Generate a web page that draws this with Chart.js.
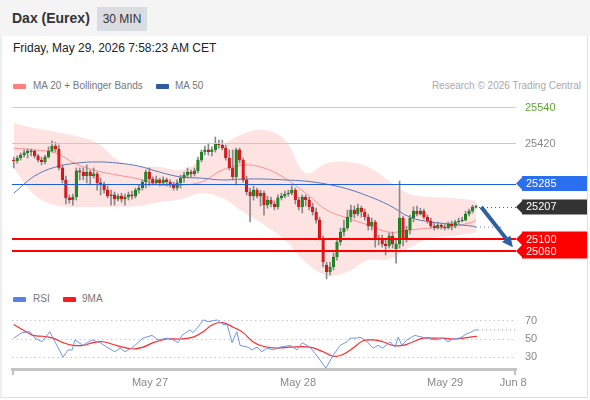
<!DOCTYPE html>
<html>
<head>
<meta charset="utf-8">
<script src="https://cdn.jsdelivr.net/npm/chart.js@4.4.1/dist/chart.umd.min.js"></script>
<style>
  body { margin:0; width:590px; height:400px; background:#fff; font-family:"Liberation Sans", Arial, sans-serif; position:relative; overflow:hidden; }
  .frame { position:absolute; left:0; top:0; width:588px; height:398px; box-sizing:border-box; border-left:2px solid #eeeeee; border-right:1px solid #e0e0e0; border-bottom:1px solid #e0e0e0; }
  .head { position:absolute; left:0; top:0; width:590px; height:36px; background:#f4f4f4; }
  .title { position:absolute; left:12px; top:10px; font-weight:bold; font-size:14px; color:#333; }
  .badge { position:absolute; left:97px; top:7px; width:50px; height:24px; background:#d9dce1; font-size:12px; color:#333; line-height:24px; text-align:center; }
  .date { position:absolute; left:13px; top:41px; font-size:12px; color:#222; }
  .lg { position:absolute; font-size:10px; color:#777; line-height:12px; }
  .sw { position:absolute; width:13px; height:5px; border-radius:1px; }
  canvas { position:absolute; left:0; }
</style>
</head>
<body>
<div class="frame"></div>
<div class="head"></div>
<div class="title">Dax (Eurex)</div>
<div class="badge">30 MIN</div>
<div class="date">Friday, May 29, 2026 7:58:23 AM CET</div>

<div class="sw" style="left:13px;top:84px;background:#ff7f7f"></div>
<div class="lg" style="left:33px;top:80px">MA 20 + Bollinger Bands</div>
<div class="sw" style="left:156px;top:84px;background:#2d5aa0"></div>
<div class="lg" style="left:175px;top:80px">MA 50</div>
<div class="lg" style="right:9px;top:80px;color:#aaa">Research © 2026 Trading Central</div>

<div class="sw" style="left:13px;top:297px;background:#5b80e6"></div>
<div class="lg" style="left:33px;top:293px">RSI</div>
<div class="sw" style="left:63px;top:297px;background:#ff1a1a"></div>
<div class="lg" style="left:82px;top:293px">9MA</div>

<canvas id="price" width="590" height="200" style="top:90px"></canvas>
<canvas id="rsi" width="590" height="110" style="top:290px"></canvas>

<script>
// 30 min candles, oldest first
const candleOpen = [
  25363, 25360, 25370, 25380, 25387, 25393, 25393, 25377, 25363, 25357,
  25373, 25393, 25410, 25400, 25337, 25297, 25237, 25230, 25240, 25327,
  25323, 25310, 25323, 25310, 25317, 25287, 25280, 25263, 25243, 25247,
  25233, 25243, 25233, 25240, 25247, 25243, 25263, 25270, 25290, 25323,
  25300, 25287, 25297, 25287, 25297, 25290, 25283, 25270, 25287, 25303,
  25313, 25323, 25317, 25327, 25363, 25390, 25397, 25390, 25397, 25420,
  25413, 25403, 25370, 25337, 25307, 25397, 25363, 25297, 25257, 25243,
  25263, 25243, 25253, 25213, 25230, 25217, 25207, 25237, 25243, 25250,
  25253, 25263, 25230, 25207, 25240, 25230, 25207, 25190, 25163, 25103,
  25013, 24990, 25007, 25040, 25090, 25123, 25137, 25173, 25197, 25183,
  25203, 25190, 25173, 25143, 25157, 25097, 25103, 25083, 25077, 25110,
  25067, 25083, 25170, 25097, 25130, 25170, 25193, 25183, 25193, 25173,
  25160, 25143, 25137, 25147, 25140, 25137, 25150, 25143, 25157, 25160,
  25163, 25183, 25193, 25205
];
const candleHigh = [
  25373, 25377, 25387, 25397, 25400, 25400, 25397, 25383, 25373, 25380,
  25407, 25427, 25423, 25413, 25347, 25310, 25247, 25250, 25337, 25337,
  25337, 25347, 25330, 25337, 25323, 25303, 25290, 25277, 25263, 25257,
  25250, 25253, 25250, 25257, 25260, 25270, 25280, 25297, 25330, 25337,
  25307, 25310, 25303, 25307, 25303, 25297, 25290, 25297, 25313, 25323,
  25337, 25330, 25337, 25373, 25397, 25410, 25420, 25407, 25440, 25430,
  25430, 25413, 25397, 25397, 25403, 25403, 25370, 25310, 25270, 25277,
  25270, 25263, 25260, 25243, 25240, 25227, 25247, 25253, 25260, 25263,
  25277, 25270, 25240, 25247, 25247, 25240, 25220, 25203, 25173, 25110,
  25023, 25023, 25053, 25103, 25137, 25163, 25197, 25213, 25210, 25217,
  25210, 25200, 25183, 25170, 25163, 25113, 25113, 25097, 25120, 25123,
  25097, 25293, 25177, 25143, 25180, 25207, 25210, 25203, 25200, 25180,
  25170, 25153, 25157, 25153, 25150, 25157, 25160, 25163, 25170, 25173,
  25193, 25200, 25213, 25213
];
const candleLow = [
  25337, 25353, 25363, 25373, 25370, 25377, 25370, 25357, 25347, 25350,
  25370, 25390, 25390, 25330, 25287, 25217, 25220, 25213, 25230, 25297,
  25297, 25287, 25280, 25303, 25263, 25247, 25253, 25237, 25213, 25213,
  25227, 25223, 25213, 25230, 25233, 25237, 25253, 25263, 25270, 25277,
  25280, 25280, 25277, 25280, 25277, 25273, 25263, 25263, 25270, 25290,
  25303, 25307, 25310, 25320, 25357, 25380, 25380, 25377, 25390, 25403,
  25397, 25363, 25330, 25297, 25280, 25353, 25290, 25247, 25157, 25230,
  25237, 25210, 25180, 25203, 25207, 25197, 25200, 25230, 25237, 25243,
  25247, 25217, 25197, 25187, 25210, 25197, 25180, 25153, 25097, 25007,
  24967, 24980, 24997, 25030, 25080, 25110, 25130, 25157, 25170, 25177,
  25173, 25163, 25130, 25130, 25073, 25080, 25073, 25047, 25070, 25070,
  25020, 25070, 25077, 25090, 25117, 25157, 25177, 25180, 25167, 25153,
  25137, 25130, 25133, 25133, 25130, 25133, 25130, 25137, 25150, 25157,
  25160, 25177, 25187, 25203
];
const candleClose = [
  25360, 25370, 25380, 25387, 25393, 25391, 25377, 25363, 25357, 25373,
  25393, 25410, 25400, 25337, 25297, 25237, 25230, 25240, 25327, 25323,
  25310, 25323, 25310, 25317, 25287, 25280, 25263, 25243, 25247, 25233,
  25243, 25233, 25240, 25247, 25243, 25263, 25270, 25290, 25323, 25300,
  25287, 25297, 25287, 25297, 25290, 25283, 25270, 25287, 25303, 25313,
  25323, 25317, 25327, 25363, 25390, 25397, 25390, 25397, 25420, 25413,
  25403, 25370, 25337, 25307, 25397, 25363, 25297, 25257, 25243, 25263,
  25243, 25253, 25213, 25230, 25217, 25207, 25237, 25243, 25250, 25253,
  25263, 25230, 25207, 25240, 25230, 25207, 25190, 25163, 25103, 25023,
  24990, 25007, 25040, 25090, 25123, 25137, 25173, 25197, 25183, 25203,
  25190, 25173, 25143, 25157, 25097, 25103, 25083, 25077, 25110, 25083,
  25083, 25170, 25097, 25130, 25170, 25193, 25183, 25193, 25173, 25160,
  25143, 25137, 25147, 25140, 25137, 25150, 25143, 25157, 25160, 25162,
  25183, 25193, 25207, 25207
];

// indicator readings (every 6th bar)
const indIdx    = [0, 6, 12, 18, 24, 30, 36, 42, 48, 54, 60, 66, 72, 78, 84, 90, 96, 102, 108, 114, 120, 126, 132, 133];
const bandUpper = [25487, 25470, 25457, 25443, 25420, 25363, 25343, 25340, 25330, 25363, 25413, 25450, 25463, 25430, 25320, 25353, 25357, 25340, 25293, 25250, 25240, 25237, 25230, 25227];
const bandLower = [25337, 25247, 25213, 25207, 25207, 25207, 25210, 25223, 25233, 25253, 25237, 25190, 25147, 25097, 25023, 24980, 24990, 25030, 25033, 25073, 25103, 25110, 25120, 25123];
const ma20      = [25403, 25397, 25387, 25350, 25327, 25313, 25300, 25280, 25280, 25290, 25330, 25347, 25337, 25303, 25253, 25197, 25170, 25147, 25123, 25130, 25137, 25140, 25157, 25163];
const ma50      = [25253, 25310, 25340, 25353, 25357, 25353, 25343, 25323, 25307, 25303, 25297, 25300, 25300, 25297, 25293, 25283, 25267, 25243, 25213, 25173, 25157, 25150, 25143, 25140];

const rsiIdx = [0, 2.4, 4.7, 6.1, 8.1, 10.4, 11.3, 14.2, 15.6, 16.8, 17.6, 19.9, 22.5, 24.8, 26.8, 29.1, 30.6, 32, 34.3, 37.2,
  39.8, 41.5, 44.1, 45.8, 47.3, 48.4, 50.7, 51.6, 53, 54.5, 55.9, 58.5, 60.2, 61.4, 62.8, 64.2, 65.1, 67.4, 68.6, 70,
  71.4, 72.9, 74.6, 76.6, 79.5, 81.5, 83, 85.2, 86.7, 88.1, 89.8, 91.9, 93.9, 95.9, 96.8, 98.8, 99.6, 101.1, 103.4, 104.8,
  106.2, 108.3, 109.7, 110.6, 111.7, 113.1, 114, 115.4, 117.5, 119.8, 121.8, 123.5, 124.9, 126.4, 128.4, 130.4, 131.3, 132.7, 133.6];
const rsiVal = [51, 57, 58, 51, 47, 58, 51, 30, 38, 38, 49, 43, 49, 46, 41, 36, 40, 36, 41, 51,
  54, 49, 51, 49, 46, 54, 60, 57, 63, 71, 69, 71, 66, 66, 46, 58, 43, 41, 38, 41,
  36, 40, 38, 41, 43, 38, 46, 41, 34, 27, 18, 32, 43, 47, 51, 51, 52, 49, 40, 43,
  40, 47, 41, 52, 43, 49, 51, 54, 52, 50, 49, 51, 47, 50, 51, 56, 57, 60, 60];
const rsiMaIdx = [0, 2.7, 5.6, 8.4, 11.3, 14.2, 17.1, 20, 22.8, 25.7, 28.6, 31.4, 34.3, 37.2, 40.1, 44.1, 47.8, 51.6, 54.5, 57.3,
  60.2, 63.1, 66, 68.8, 71.7, 75.7, 79.5, 85.2, 89, 91.9, 94.7, 97.6, 100.5, 103.4, 106.2, 109.1, 112, 114.9, 117.7, 120.6,
  123.5, 126.4, 129.3, 133.3];
const rsiMaVal = [66, 60, 54, 53, 51, 46, 43, 43, 46, 47, 44, 41, 39, 41, 46, 50, 50, 52, 58, 66,
  68, 63, 57, 47, 42, 40, 41, 41, 36, 31, 33, 40, 48, 49, 47, 43, 43, 47, 51, 51,
  51, 50, 51, 53];

// key levels and forecast
const resistLevels = [25540, 25420];
const pivotLevel = 25285;
const supportLevels = [25100, 25060];
const arrowFrom = [134.5, 25207];
const arrowTo = [143.6, 25073];
const ma50ProjEnd = 141;

const tickIdx = [39.2, 81.8, 124.1, 143.7];
const tickLabels = ['May 27', 'May 28', 'May 29', 'Jun 8'];
const rsiTicks = [30, 50, 70];

const xMin = -0.5, xMax = 144.5;
const priceMin = 24947, priceMax = 25580;

Chart.defaults.font.family = '"Liberation Sans", Arial, sans-serif';
Chart.defaults.animation = false;

const lastIdx = candleClose.length - 1;
const lastClose = candleClose[lastIdx];
const idx = candleClose.map((_, i) => i);
const up = (i) => candleClose[i] >= candleOpen[i];
const pts = (xs, ys) => xs.map((x, k) => ({ x: x, y: ys[k] }));

const levelsPlugin = {
  id: 'levels',
  afterDatasetsDraw(chart) {
    const { ctx, chartArea: a, scales: { x, y } } = chart;
    ctx.save();
    const hline = (v, color, w) => {
      const py = Math.round(y.getPixelForValue(v)) + (w % 2 ? 0.5 : 0);
      ctx.strokeStyle = color; ctx.lineWidth = w; ctx.setLineDash([]);
      ctx.beginPath(); ctx.moveTo(a.left, py); ctx.lineTo(a.right, py); ctx.stroke();
    };
    const tag = (vals, color) => {
      const ys = vals.map(v => y.getPixelForValue(v));
      const top = Math.min(...ys) - 7.5, bot = Math.max(...ys) + 7.5;
      const bx = a.right + 6, ex = a.right + 71;
      ctx.fillStyle = color;
      ctx.beginPath();
      ctx.moveTo(bx, top); ctx.lineTo(ex, top); ctx.lineTo(ex, bot); ctx.lineTo(bx, bot);
      ys.slice().reverse().forEach(py => { ctx.lineTo(bx, py + 6); ctx.lineTo(a.right, py); ctx.lineTo(bx, py - 6); });
      ctx.closePath(); ctx.fill();
      ctx.fillStyle = '#fff'; ctx.font = '11px "Liberation Sans", Arial';
      ctx.textBaseline = 'middle'; ctx.textAlign = 'left';
      vals.forEach((v, k) => ctx.fillText(String(v), a.right + 10, ys[k] + 0.5));
    };

    // resistances
    hline(resistLevels[0], '#bcdda6', 1);
    hline(resistLevels[1], '#c9c9c9', 1);
    ctx.font = '11px "Liberation Sans", Arial'; ctx.textBaseline = 'middle'; ctx.textAlign = 'left';
    ctx.fillStyle = '#5ea82e';
    ctx.fillText(String(resistLevels[0]), a.right + 9, y.getPixelForValue(resistLevels[0]) + 0.5);
    ctx.fillStyle = '#888';
    ctx.fillText(String(resistLevels[1]), a.right + 9, y.getPixelForValue(resistLevels[1]) + 0.5);

    // pivot
    hline(pivotLevel, '#1f5fd6', 1);
    tag([pivotLevel], '#2a6ff0');

    // supports
    supportLevels.forEach(v => hline(v, '#ff0000', 2));
    tag(supportLevels, '#ff0000');

    // last price
    const ly = Math.round(y.getPixelForValue(lastClose)) + 0.5;
    ctx.strokeStyle = '#555'; ctx.lineWidth = 1; ctx.setLineDash([1, 3]);
    ctx.beginPath(); ctx.moveTo(x.getPixelForValue(lastIdx) + 3, ly); ctx.lineTo(a.right, ly); ctx.stroke();
    ctx.setLineDash([]);
    tag([lastClose], '#333333');

    // forecast arrow
    const x0 = x.getPixelForValue(arrowFrom[0]), y0 = y.getPixelForValue(arrowFrom[1]);
    const x1 = x.getPixelForValue(arrowTo[0]), y1 = y.getPixelForValue(arrowTo[1]);
    const ang = Math.atan2(y1 - y0, x1 - x0), head = 12;
    ctx.strokeStyle = '#2f5f9e'; ctx.fillStyle = '#2f5f9e'; ctx.lineWidth = 4; ctx.lineCap = 'butt';
    ctx.beginPath(); ctx.moveTo(x0, y0);
    ctx.lineTo(x1 - Math.cos(ang) * head * 0.8, y1 - Math.sin(ang) * head * 0.8); ctx.stroke();
    ctx.beginPath(); ctx.moveTo(x1, y1);
    ctx.lineTo(x1 - head * Math.cos(ang - 0.45), y1 - head * Math.sin(ang - 0.45));
    ctx.lineTo(x1 - head * Math.cos(ang + 0.45), y1 - head * Math.sin(ang + 0.45));
    ctx.closePath(); ctx.fill();
    ctx.restore();
  }
};

new Chart(document.getElementById('price'), {
  type: 'bar',
  data: {
    datasets: [
      { type: 'line', data: pts(indIdx, bandUpper), fill: '+1', backgroundColor: 'rgba(245,0,0,0.11)',
        borderWidth: 0, pointRadius: 0, tension: 0.4, order: 6 },
      { type: 'line', data: pts(indIdx, bandLower), fill: false, borderWidth: 0, pointRadius: 0, tension: 0.4, order: 6 },
      { type: 'line', data: pts(indIdx, ma20), borderColor: '#ff9191', borderWidth: 1, pointRadius: 0, tension: 0.4, order: 5 },
      { type: 'line', data: pts(indIdx, ma50), borderColor: '#5a78b8', borderWidth: 1, pointRadius: 0, tension: 0.4, order: 4 },
      { type: 'line', data: [{ x: lastIdx, y: ma50[ma50.length - 1] }, { x: ma50ProjEnd, y: ma50[ma50.length - 1] }],
        borderColor: '#5a78b8', borderWidth: 1, borderDash: [1, 3], pointRadius: 0, order: 4 },
      { data: idx.map(i => ({ x: i, y: [candleLow[i], candleHigh[i]] })), backgroundColor: '#8a8a8a',
        barThickness: 1, grouped: false, order: 2 },
      { data: idx.map(i => ({ x: i, y: [candleOpen[i], candleClose[i]] })),
        backgroundColor: (c) => up(c.dataIndex) ? '#218a21' : '#e3161b',
        borderColor: (c) => up(c.dataIndex) ? '#17621a' : '#b50e12', borderWidth: 0.5,
        barThickness: 2.6, minBarLength: 1, grouped: false, order: 1 }
    ]
  },
  options: {
    responsive: false,
    events: [],
    layout: { padding: { left: 12, right: 74, top: 5, bottom: 5 } },
    scales: {
      x: { type: 'linear', min: xMin, max: xMax, offset: false, display: false },
      y: { type: 'linear', min: priceMin, max: priceMax, display: false }
    },
    plugins: { legend: { display: false }, tooltip: { enabled: false } }
  },
  plugins: [levelsPlugin]
});

const axisCaps = {
  id: 'axisCaps',
  afterDraw(chart) {
    const { ctx, chartArea: a } = chart;
    ctx.save();
    ctx.strokeStyle = '#c4c4c4'; ctx.lineWidth = 2;
    [a.left + 1, a.right - 1].forEach(px => {
      ctx.beginPath(); ctx.moveTo(px, a.bottom); ctx.lineTo(px, a.bottom + 6); ctx.stroke();
    });
    ctx.restore();
  }
};

new Chart(document.getElementById('rsi'), {
  type: 'line',
  data: {
    datasets: [
      { data: pts(rsiIdx, rsiVal), borderColor: '#7196ea', borderWidth: 1, pointRadius: 0, tension: 0 },
      { data: [{ x: rsiIdx[rsiIdx.length - 1], y: rsiVal[rsiVal.length - 1] }, { x: xMax, y: rsiVal[rsiVal.length - 1] }],
        borderColor: '#7196ea', borderWidth: 1, borderDash: [1, 3], pointRadius: 0 },
      { data: pts(rsiMaIdx, rsiMaVal), borderColor: '#ff2a2a', borderWidth: 1.2, pointRadius: 0, tension: 0.4 }
    ]
  },
  options: {
    responsive: false,
    events: [],
    layout: { padding: { left: 12, right: 0, top: 19, bottom: 0 } },
    scales: {
      x: {
        type: 'linear', min: xMin, max: xMax, offset: false,
        afterBuildTicks: (s) => { s.ticks = tickIdx.map(v => ({ value: v })); },
        afterFit: (s) => { s.height = 31; },
        grid: { display: false, drawTicks: false },
        border: { display: true, color: '#c4c4c4', width: 3 },
        ticks: { callback: (v, i) => tickLabels[i], autoSkip: false, maxRotation: 0, padding: 7,
                 color: '#888', font: { size: 11 } }
      },
      y: {
        position: 'right', min: 17, max: 83,
        afterBuildTicks: (s) => { s.ticks = rsiTicks.map(v => ({ value: v })); },
        afterFit: (s) => { s.width = 74; },
        grid: { color: '#c8c8c8', drawTicks: false, lineWidth: 1 },
        border: { display: false, dash: [1.5, 3] },
        ticks: { padding: 9, color: '#888', font: { size: 11 } }
      }
    },
    plugins: { legend: { display: false }, tooltip: { enabled: false } }
  },
  plugins: [axisCaps]
});
</script>
</body>
</html>
